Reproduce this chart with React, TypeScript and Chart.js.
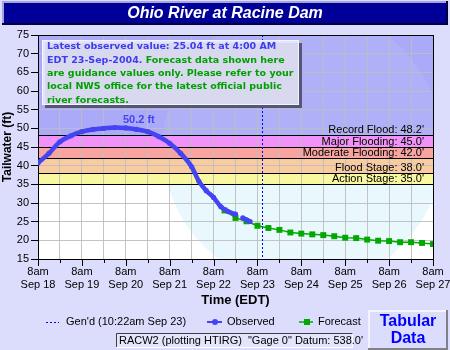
import React, { useEffect, useRef } from 'react';
import { Chart, registerables } from 'chart.js';

Chart.register(...registerables);

// ---------------- data ----------------
const TITLE = 'Ohio River at Racine Dam';
const DAY_LABELS = ['Sep 18', 'Sep 19', 'Sep 20', 'Sep 21', 'Sep 22', 'Sep 23', 'Sep 24', 'Sep 25', 'Sep 26', 'Sep 27'];
const TIME_LABEL = '8am';
const X_MAX_HOURS = 216; // hours after 8am Sep 18
const Y_MIN = 15;
const Y_MAX = 75;
const Y_STEP = 5;

// hours after 8am Sep 18
const OBS_HOURS = [0, 6, 12, 18, 24, 30, 36, 42, 48, 54, 60, 66, 72, 78, 84, 88, 92, 96, 100, 104, 108, 110, 112, 114, 116];
const OBS_VALUES = [40.7, 43.3, 46.4, 48.0, 49.1, 49.7, 50.0, 50.2, 50.1, 49.7, 49.1, 47.8, 46.0, 43.3, 39.7, 35.8, 33.3, 31.5, 29.0, 27.7, 27.0, null, 26.0, 25.5, 25.04];

const FC_HOURS = [102, 108, 114, 120, 126, 132, 138, 144, 150, 156, 162, 168, 174, 180, 186, 192, 198, 204, 210, 216];
const FC_VALUES = [28.0, 26.0, 25.1, 23.9, 23.3, 22.8, 22.1, 21.8, 21.6, 21.4, 21.1, 20.7, 20.6, 20.2, 19.9, 19.8, 19.5, 19.5, 19.3, 19.0];

const STAGE_LEVELS = [35, 38, 42, 45, 48.2];
const STAGE_NAMES = ['Action Stage', 'Flood Stage', 'Moderate Flooding', 'Major Flooding', 'Record Flood'];
const STAGE_COLORS = ['#f8f8a0', '#f8cca0', '#f8a4a0', '#f092f8', '#aaaaf8'];

const GEN_HOUR = 122.37; // 10:22am Sep 23
const GEN_LABEL = "Gen'd (10:22am Sep 23)";
const OBS_LABEL = 'Observed';
const FC_LABEL = 'Forecast';
const FOOTER_TEXT = 'RACW2 (plotting HTIRG)  "Gage 0" Datum: 538.0\'';
const BUTTON_LINES = ['Tabular', 'Data'];
const X_TITLE = 'Time (EDT)';
const Y_TITLE = 'Tailwater (ft)';

const INFO_LINES: { text: string; color: 'b' | 'g' }[][] = [
  [{ text: 'Latest observed value: 25.04 ft at 4:00 AM', color: 'b' }],
  [{ text: 'EDT 23-Sep-2004. ', color: 'b' }, { text: 'Forecast data shown here', color: 'g' }],
  [{ text: 'are guidance values only. Please refer to your', color: 'g' }],
  [{ text: 'local NWS office for the latest official public', color: 'g' }],
  [{ text: 'river forecasts.', color: 'g' }],
];

// ---------------- styles ----------------
const FONT = "'Liberation Sans', Arial, sans-serif";
const BG = '#dcdcfc';
const BLUE = '#4444f4';
const GREEN = '#00a800';
const GRID = 'rgba(190,190,190,0.9)';

const decorPlugin = {
  id: 'decor',
  beforeDraw(chart: any) {
    const { ctx, chartArea: a, scales } = chart;
    const y = scales.y;
    ctx.save();
    ctx.fillStyle = BG;
    ctx.fillRect(0, 0, chart.width, chart.height);

    // plot background + stage bands
    ctx.fillStyle = '#ffffff';
    ctx.fillRect(a.left, a.top, a.right - a.left, a.bottom - a.top);
    for (let i = 0; i < STAGE_LEVELS.length; i++) {
      const lo = STAGE_LEVELS[i];
      const hi = i + 1 < STAGE_LEVELS.length ? STAGE_LEVELS[i + 1] : Y_MAX;
      const y0 = y.getPixelForValue(hi);
      const y1 = y.getPixelForValue(lo);
      ctx.fillStyle = STAGE_COLORS[i];
      ctx.fillRect(a.left, y0, a.right - a.left, y1 - y0);
    }
    // faint watermark
    const cx = a.left + (a.right - a.left) * 0.67;
    const cy = a.top + (a.bottom - a.top) * 0.5;
    const yLow = y.getPixelForValue(STAGE_LEVELS[0]);
    ctx.save();
    ctx.beginPath();
    ctx.rect(a.left, yLow, a.right - a.left, a.bottom - yLow);
    ctx.clip();
    ctx.beginPath();
    ctx.arc(cx, cy, 140, 0, Math.PI * 2);
    ctx.fillStyle = 'rgba(215,242,252,0.55)';
    ctx.fill();
    ctx.restore();
    const yHigh = y.getPixelForValue(STAGE_LEVELS[STAGE_LEVELS.length - 1]);
    ctx.save();
    ctx.beginPath();
    ctx.rect(a.left, a.top, a.right - a.left, yHigh - a.top);
    ctx.clip();
    ctx.beginPath();
    ctx.arc(cx, cy, 140, 0, Math.PI * 2);
    ctx.fillStyle = 'rgba(255,255,255,0.08)';
    ctx.fill();
    ctx.restore();

    // title bar
    ctx.fillStyle = '#000099';
    ctx.fillRect(2, 1, 446, 24);
    ctx.fillStyle = '#a4a4d8';
    ctx.fillRect(2, 1, 446, 2);
    ctx.fillRect(2, 1, 2, 24);
    ctx.fillStyle = '#000040';
    ctx.fillRect(2, 23, 446, 2);
    ctx.fillRect(446, 1, 2, 24);
    ctx.fillStyle = '#ffffff';
    ctx.font = `italic bold 16px ${FONT}`;
    ctx.textAlign = 'center';
    ctx.textBaseline = 'middle';
    ctx.fillText(TITLE, 225, 13.5);
    ctx.restore();
  },
  beforeDatasetsDraw(chart: any) {
    const { ctx, chartArea: a, scales } = chart;
    const y = scales.y;
    const x = scales.x;
    ctx.save();
    // stage lines & labels
    ctx.strokeStyle = '#000';
    ctx.lineWidth = 1;
    ctx.font = `11px ${FONT}`;
    ctx.textAlign = 'right';
    ctx.textBaseline = 'alphabetic';
    ctx.fillStyle = '#000';
    STAGE_LEVELS.forEach((lv, i) => {
      const py = Math.round(y.getPixelForValue(lv)) + 0.5;
      ctx.beginPath();
      ctx.moveTo(a.left, py);
      ctx.lineTo(a.right, py);
      ctx.stroke();
      ctx.fillText(`${STAGE_NAMES[i]}: ${lv.toFixed(1)}'`, a.right - 9, py - 2.5);
    });
    // generated-time line
    const gx = Math.round(x.getPixelForValue(GEN_HOUR)) + 0.5;
    ctx.strokeStyle = '#0000ff';
    ctx.setLineDash([2, 2]);
    ctx.beginPath();
    ctx.moveTo(gx, a.top);
    ctx.lineTo(gx, a.bottom);
    ctx.stroke();
    ctx.setLineDash([]);
    // border
    ctx.strokeStyle = '#000';
    ctx.strokeRect(Math.round(a.left) + 0.5, Math.round(a.top) + 0.5, Math.round(a.right - a.left), Math.round(a.bottom - a.top));
    ctx.restore();
  },
  afterDraw(chart: any) {
    const { ctx, chartArea: a, scales } = chart;
    const x = scales.x;
    const y = scales.y;
    ctx.save();

    // peak label
    let pi = 0;
    OBS_VALUES.forEach((v, i) => { if (v !== null && v > (OBS_VALUES[pi] as number)) pi = i; });
    const peak = OBS_VALUES[pi] as number;
    ctx.font = `bold 11px ${FONT}`;
    ctx.fillStyle = BLUE;
    ctx.textAlign = 'center';
    ctx.textBaseline = 'middle';
    ctx.fillText(`${peak.toFixed(1)} ft`, x.getPixelForValue(OBS_HOURS[pi]) + 24, y.getPixelForValue(peak) - 8);

    // x tick marks (major on labelled days, minor between)
    ctx.strokeStyle = '#000';
    ctx.lineWidth = 1;
    for (let h = 0; h <= X_MAX_HOURS; h += 12) {
      const px = Math.round(x.getPixelForValue(h)) + 0.5;
      const len = h % 24 === 0 ? 7 : 4;
      ctx.beginPath();
      ctx.moveTo(px, a.bottom);
      ctx.lineTo(px, a.bottom + len);
      ctx.stroke();
    }

    // info box
    const bx = a.left + 4, by = a.top + 5, bw = 257, bh = 65;
    ctx.fillStyle = 'rgba(70,70,100,0.85)';
    ctx.fillRect(bx + 3, by + 3, bw, bh);
    ctx.fillStyle = 'rgba(234,234,255,0.88)';
    ctx.fillRect(bx, by, bw, bh);
    ctx.strokeStyle = '#f4f4ff';
    ctx.strokeRect(bx + 0.5, by + 0.5, bw - 1, bh - 1);
    ctx.font = `bold 9.5px 'DejaVu Sans', Verdana, sans-serif`;
    ctx.textAlign = 'left';
    ctx.textBaseline = 'middle';
    INFO_LINES.forEach((line, li) => {
      let tx = bx + 5;
      const ty = by + 7 + li * 13.33;
      line.forEach((seg) => {
        ctx.fillStyle = seg.color === 'b' ? '#3c3cf0' : '#00a000';
        ctx.fillText(seg.text, tx, ty);
        tx += ctx.measureText(seg.text).width;
      });
    });

    // axis titles
    ctx.fillStyle = '#000';
    ctx.font = `bold 13px ${FONT}`;
    ctx.textAlign = 'center';
    ctx.textBaseline = 'middle';
    ctx.fillText(X_TITLE, (a.left + a.right) / 2, 300);
    ctx.save();
    ctx.translate(8, (a.top + a.bottom) / 2);
    ctx.rotate(-Math.PI / 2);
    ctx.font = `bold 12px ${FONT}`;
    ctx.fillText(Y_TITLE, 0, 0);
    ctx.restore();

    // legend
    const ly = 322;
    ctx.font = `11px ${FONT}`;
    ctx.textAlign = 'left';
    ctx.strokeStyle = '#0000ff';
    ctx.setLineDash([2, 2]);
    ctx.beginPath();
    ctx.moveTo(46, ly + 0.5);
    ctx.lineTo(59, ly + 0.5);
    ctx.stroke();
    ctx.setLineDash([]);
    ctx.fillStyle = '#000';
    ctx.fillText(GEN_LABEL, 66, ly);

    ctx.strokeStyle = BLUE;
    ctx.lineWidth = 2;
    ctx.beginPath();
    ctx.moveTo(207, ly);
    ctx.lineTo(222, ly);
    ctx.stroke();
    ctx.fillStyle = BLUE;
    ctx.beginPath();
    ctx.arc(215, ly, 3, 0, Math.PI * 2);
    ctx.fill();
    ctx.fillStyle = '#000';
    ctx.fillText(OBS_LABEL, 227, ly);

    ctx.strokeStyle = GREEN;
    ctx.lineWidth = 1.5;
    ctx.beginPath();
    ctx.moveTo(299, ly);
    ctx.lineTo(313, ly);
    ctx.stroke();
    ctx.fillStyle = GREEN;
    ctx.fillRect(304, ly - 3, 6, 6);
    ctx.fillStyle = '#000';
    ctx.fillText(FC_LABEL, 318, ly);

    // footer box
    ctx.lineWidth = 1;
    ctx.fillStyle = '#e4e4fc';
    ctx.fillRect(116, 333, 237, 14);
    ctx.strokeStyle = '#404040';
    ctx.beginPath();
    ctx.moveTo(116.5, 347);
    ctx.lineTo(116.5, 333.5);
    ctx.lineTo(353, 333.5);
    ctx.stroke();
    ctx.strokeStyle = '#ffffff';
    ctx.beginPath();
    ctx.moveTo(352.5, 333.5);
    ctx.lineTo(352.5, 347.5);
    ctx.lineTo(116.5, 347.5);
    ctx.stroke();
    ctx.fillStyle = '#000';
    ctx.fillText(FOOTER_TEXT, 119, 340.5);

    // Tabular Data button
    ctx.fillStyle = '#dcdcfc';
    ctx.fillRect(368, 310, 80, 40);
    ctx.fillStyle = '#f4f4ff';
    ctx.fillRect(368, 310, 80, 2);
    ctx.fillRect(368, 310, 2, 40);
    ctx.fillStyle = '#808088';
    ctx.fillRect(446, 310, 2, 40);
    ctx.fillRect(368, 348, 80, 2);
    ctx.fillStyle = '#0000ff';
    ctx.font = `bold 16px ${FONT}`;
    ctx.textAlign = 'center';
    ctx.fillText(BUTTON_LINES[0], 408, 321.5);
    ctx.fillText(BUTTON_LINES[1], 408, 338.5);

    ctx.restore();
  },
};

export default function App() {
  const ref = useRef<HTMLCanvasElement | null>(null);
  useEffect(() => {
    if (!ref.current) return;
    const chart = new Chart(ref.current, {
      type: 'line',
      data: {
        datasets: [
          {
            label: OBS_LABEL,
            data: OBS_HOURS.map((h, i) => ({ x: h, y: OBS_VALUES[i] })) as any,
            borderColor: BLUE,
            backgroundColor: BLUE,
            borderWidth: 4.5,
            pointRadius: 2.6,
            pointBorderWidth: 0,
            pointBackgroundColor: BLUE,
            cubicInterpolationMode: 'monotone',
            spanGaps: false,
          },
          {
            label: FC_LABEL,
            data: FC_HOURS.map((h, i) => ({ x: h, y: FC_VALUES[i] })),
            borderColor: GREEN,
            backgroundColor: GREEN,
            borderWidth: 1.5,
            pointStyle: 'rect',
            pointRadius: 4.2,
            pointBorderWidth: 0,
            pointBackgroundColor: GREEN,
          },
        ],
      },
      options: {
        animation: false,
        responsive: false,
        devicePixelRatio: 1,
        layout: { padding: { top: 35, right: 17, left: 0, bottom: 0 } },
        plugins: {
          legend: { display: false },
          title: { display: false },
          tooltip: { enabled: false },
        },
        scales: {
          x: {
            type: 'linear',
            min: 0,
            max: X_MAX_HOURS,
            afterFit: (s: any) => { s.height = 91; s.paddingLeft = 0; s.paddingRight = 0; },
            ticks: {
              stepSize: 12,
              autoSkip: false,
              maxRotation: 0,
              padding: 7,
              color: '#000',
              font: { family: FONT, size: 11, lineHeight: 1.12 },
              callback: (v: any) => (Number(v) % 24 === 0 ? [TIME_LABEL, DAY_LABELS[Number(v) / 24]] : ''),
            },
            grid: { color: GRID, drawTicks: false, lineWidth: 1 },
            border: { display: true, color: '#000' },
          },
          y: {
            min: Y_MIN,
            max: Y_MAX,
            afterFit: (s: any) => { s.width = 38; s.paddingTop = 0; s.paddingBottom = 0; },
            ticks: {
              stepSize: Y_STEP,
              padding: 2,
              color: '#000',
              font: { family: FONT, size: 11 },
            },
            grid: { color: GRID, tickColor: '#000', tickLength: 7, lineWidth: 1 },
            border: { display: true, color: '#000' },
          },
        },
      } as any,
      plugins: [decorPlugin],
    });
    return () => chart.destroy();
  }, []);
  return (
    <div style={{ position: 'absolute', left: 0, top: 0, width: 450, height: 350 }}>
      <canvas ref={ref} width={450} height={350} style={{ display: 'block', width: 450, height: 350 }} />
    </div>
  );
}
